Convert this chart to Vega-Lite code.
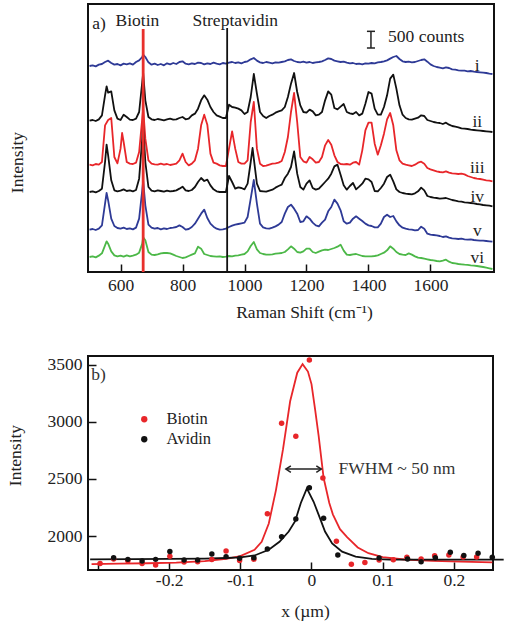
{
"$schema": "https://vega.github.io/schema/vega-lite/v6.json",
"padding": {"left": 5, "top": 3, "right": 5, "bottom": 5},
"background": "white",
"spacing": 32,
"resolve": {"scale": {"color": "independent"}, "legend": {"color": "independent"}},
"config": {
  "font": "Liberation Serif",
  "view": {"stroke": "#111", "strokeWidth": 2},
  "axis": {"grid": false, "domain": false, "tickSize": -8, "tickWidth": 1.5, "tickColor": "#111", "labelFont": "Liberation Serif", "titleFont": "Liberation Serif", "labelFontSize": 17.5, "titleFontSize": 17.5, "labelColor": "#222", "titleColor": "#222", "titleFontWeight": "normal"},
  "text": {"font": "Liberation Serif", "fontSize": 17.5, "color": "#222"}
},
"vconcat": [
{
  "width": 406, "height": 268,
  "layer": [
    {
      "data": {"values": [
        {"cm":500,"i":6180,"ii":4540,"iii":3220,"iv":2400,"v":1270,"vi":450},
        {"cm":510,"i":6200,"ii":4560,"iii":3200,"iv":2420,"v":1290,"vi":470},
        {"cm":520,"i":6170,"ii":4530,"iii":3240,"iv":2390,"v":1260,"vi":440},
        {"cm":530,"i":6220,"ii":4580,"iii":3220,"iv":2430,"v":1300,"vi":490},
        {"cm":540,"i":6240,"ii":4700,"iii":3300,"iv":2500,"v":1400,"vi":560},
        {"cm":550,"i":6300,"ii":5300,"iii":4400,"iv":3300,"v":2050,"vi":800},
        {"cm":555,"ii":5570,"iv":3820,"v":2370,"vi":920},
        {"cm":560,"i":6340,"ii":5380,"iii":4560,"iv":3500,"v":2150,"vi":850},
        {"cm":570,"i":6270,"ii":5420,"iii":4620,"iv":2750,"v":1600,"vi":620},
        {"cm":580,"i":6220,"ii":4850,"iii":3450,"iv":2450,"v":1380,"vi":500},
        {"cm":590,"i":6240,"ii":4600,"iii":3260,"iv":2420,"v":1320,"vi":470},
        {"cm":600,"i":6200,"ii":4560,"iii":3700,"iv":2440,"v":1300,"vi":490},
        {"cm":605,"iii":4170},
        {"cm":610,"i":6250,"ii":4720,"iii":3900,"iv":2480,"v":1330,"vi":460},
        {"cm":620,"i":6230,"ii":4650,"iii":3300,"iv":2430,"v":1290,"vi":500},
        {"cm":630,"i":6260,"ii":4570,"iii":3250,"iv":2450,"v":1310,"vi":470},
        {"cm":640,"i":6220,"ii":4560,"iii":3240,"iv":2420,"v":1280,"vi":490},
        {"cm":650,"i":6300,"ii":4600,"iii":3280,"iv":2460,"v":1330,"vi":520},
        {"cm":660,"i":6350,"ii":4800,"iii":3600,"iv":2800,"v":1600,"vi":580},
        {"cm":670,"i":6450,"ii":5700,"iii":4600,"iv":4000,"v":2450,"vi":850},
        {"cm":673,"i":6520,"ii":5970,"iii":4900,"iv":4420,"v":2730,"vi":1040},
        {"cm":680,"i":6450,"ii":5150,"iii":4000,"iv":3300,"v":2000,"vi":950},
        {"cm":690,"i":6290,"ii":4650,"iii":3350,"iv":2550,"v":1420,"vi":600},
        {"cm":700,"i":6220,"ii":4580,"iii":3250,"iv":2440,"v":1330,"vi":520},
        {"cm":710,"i":6250,"ii":4560,"iii":3230,"iv":2420,"v":1300,"vi":510},
        {"cm":720,"i":6210,"ii":4590,"iii":3220,"iv":2450,"v":1320,"vi":530},
        {"cm":730,"i":6240,"ii":4570,"iii":3250,"iv":2430,"v":1280,"vi":560},
        {"cm":740,"i":6200,"ii":4550,"iii":3220,"iv":2410,"v":1310,"vi":570},
        {"cm":750,"i":6260,"ii":4580,"iii":3240,"iv":2440,"v":1290,"vi":570},
        {"cm":760,"i":6230,"ii":4600,"iii":3210,"iv":2420,"v":1320,"vi":560},
        {"cm":770,"i":6270,"ii":4570,"iii":3230,"iv":2430,"v":1330,"vi":520},
        {"cm":780,"i":6240,"ii":4580,"iii":3250,"iv":2450,"v":1350,"vi":480},
        {"cm":790,"i":6300,"ii":4620,"iii":3350,"iv":2500,"v":1400,"vi":450},
        {"cm":800,"i":6320,"ii":4650,"iii":3550,"iv":2560,"v":1350,"vi":420},
        {"cm":810,"i":6250,"ii":4580,"iii":3300,"iv":2450,"v":1270,"vi":440},
        {"cm":820,"i":6230,"ii":4600,"iii":3200,"iv":2430,"v":1290,"vi":480},
        {"cm":830,"i":6260,"ii":4700,"iii":3250,"iv":2460,"v":1350,"vi":520},
        {"cm":840,"i":6240,"ii":4750,"iii":3350,"iv":2550,"v":1450,"vi":560},
        {"cm":850,"i":6280,"ii":4900,"iii":3700,"iv":2700,"v":1600,"vi":760},
        {"cm":860,"i":6270,"ii":5150,"iii":4400,"iv":2820,"v":1750,"vi":700},
        {"cm":870,"i":6230,"ii":5300,"iii":4720,"iv":2730,"v":1870,"vi":540},
        {"cm":880,"i":6260,"ii":5170,"iii":4420,"iv":2770,"v":1620,"vi":510},
        {"cm":890,"i":6240,"ii":4950,"iii":3550,"iv":2600,"v":1450,"vi":480},
        {"cm":900,"i":6280,"ii":4800,"iii":3280,"iv":2480,"v":1360,"vi":470},
        {"cm":910,"i":6250,"ii":4700,"iii":3250,"iv":2420,"v":1300,"vi":460},
        {"cm":920,"i":6230,"ii":4660,"iii":3200,"iv":2400,"v":1270,"vi":470},
        {"cm":930,"i":6270,"ii":4620,"iii":3180,"iv":2400,"v":1280,"vi":450},
        {"cm":940,"i":6250,"ii":4620,"iii":3180,"iv":2400,"v":1300,"vi":460},
        {"cm":950,"i":6280,"ii":5020,"iii":3700,"iv":2880,"v":1350,"vi":480},
        {"cm":960,"i":6300,"ii":4950,"iii":4220,"iv":2700,"v":1390,"vi":470},
        {"cm":970,"i":6270,"ii":4930,"iii":3700,"iv":2500,"v":1420,"vi":490},
        {"cm":980,"i":6290,"ii":4900,"iii":3300,"iv":2540,"v":1440,"vi":500},
        {"cm":990,"i":6260,"ii":4850,"iii":3250,"iv":2520,"v":1460,"vi":520},
        {"cm":1000,"i":6300,"ii":4740,"iii":3250,"iv":2480,"v":1480,"vi":540},
        {"cm":1010,"i":6320,"ii":4800,"iii":3350,"iv":2650,"v":1650,"vi":620},
        {"cm":1020,"i":6380,"ii":5250,"iii":4500,"iv":3300,"v":2200,"vi":780},
        {"cm":1026,"iv":3720},
        {"cm":1030,"i":6420,"ii":5940,"iii":5100,"iv":3400,"v":2760,"vi":900},
        {"cm":1040,"i":6340,"ii":5350,"iii":3700,"iv":2650,"v":2050,"vi":680},
        {"cm":1050,"i":6290,"ii":4800,"iii":3250,"iv":2430,"v":1450,"vi":570},
        {"cm":1060,"i":6270,"ii":4680,"iii":3180,"iv":2420,"v":1340,"vi":540},
        {"cm":1070,"i":6300,"ii":4620,"iii":3190,"iv":2410,"v":1310,"vi":520},
        {"cm":1080,"i":6280,"ii":4680,"iii":3220,"iv":2440,"v":1300,"vi":520},
        {"cm":1090,"i":6260,"ii":4720,"iii":3250,"iv":2470,"v":1330,"vi":530},
        {"cm":1100,"i":6290,"ii":4780,"iii":3260,"iv":2530,"v":1370,"vi":550},
        {"cm":1110,"i":6280,"ii":4820,"iii":3280,"iv":2580,"v":1420,"vi":560},
        {"cm":1120,"i":6300,"ii":4850,"iii":3330,"iv":2620,"v":1500,"vi":570},
        {"cm":1130,"i":6320,"ii":4950,"iii":3600,"iv":2820,"v":1750,"vi":600},
        {"cm":1140,"i":6360,"ii":5250,"iii":4050,"iv":2950,"v":1950,"vi":680},
        {"cm":1150,"i":6380,"ii":5650,"iii":4800,"iv":3150,"v":2020,"vi":770},
        {"cm":1160,"i":6330,"ii":5970,"iii":5370,"iv":3620,"v":1900,"vi":700},
        {"cm":1170,"i":6300,"ii":5400,"iii":4500,"iv":2950,"v":1750,"vi":600},
        {"cm":1180,"i":6290,"ii":5000,"iii":3450,"iv":2550,"v":1500,"vi":580},
        {"cm":1190,"i":6310,"ii":4800,"iii":3320,"iv":2470,"v":1520,"vi":620},
        {"cm":1200,"i":6280,"ii":4780,"iii":3280,"iv":2650,"v":1670,"vi":700},
        {"cm":1210,"i":6300,"ii":4870,"iii":3450,"iv":2750,"v":1600,"vi":700},
        {"cm":1220,"i":6270,"ii":4820,"iii":3380,"iv":2520,"v":1480,"vi":600},
        {"cm":1230,"i":6290,"ii":4700,"iii":3280,"iv":2470,"v":1400,"vi":570},
        {"cm":1240,"i":6300,"ii":4720,"iii":3300,"iv":2500,"v":1370,"vi":610},
        {"cm":1250,"i":6320,"ii":4800,"iii":3450,"iv":2600,"v":1480,"vi":650},
        {"cm":1260,"i":6360,"ii":5150,"iii":3800,"iv":2700,"v":1570,"vi":670},
        {"cm":1270,"i":6410,"ii":5420,"iii":3960,"iv":2800,"v":1820,"vi":660},
        {"cm":1280,"i":6390,"ii":5320,"iii":3820,"iv":2950,"v":1950,"vi":690},
        {"cm":1290,"i":6340,"ii":4920,"iii":3500,"iv":3170,"v":2170,"vi":720},
        {"cm":1300,"i":6320,"ii":4880,"iii":3300,"iv":3220,"v":2050,"vi":760},
        {"cm":1310,"i":6300,"ii":4960,"iii":3240,"iv":2920,"v":1850,"vi":820},
        {"cm":1320,"i":6310,"ii":5040,"iii":3230,"iv":2600,"v":1520,"vi":640},
        {"cm":1330,"i":6280,"ii":4800,"iii":3240,"iv":2470,"v":1450,"vi":520},
        {"cm":1340,"i":6260,"ii":4760,"iii":3220,"iv":2580,"v":1480,"vi":510},
        {"cm":1350,"i":6270,"ii":4740,"iii":3280,"iv":2670,"v":1600,"vi":530},
        {"cm":1360,"i":6240,"ii":4800,"iii":3300,"iv":2480,"v":1670,"vi":540},
        {"cm":1370,"i":6250,"ii":4700,"iii":3220,"iv":2560,"v":1600,"vi":510},
        {"cm":1380,"i":6230,"ii":4750,"iii":3650,"iv":2650,"v":1530,"vi":480},
        {"cm":1390,"i":6260,"ii":5050,"iii":4250,"iv":2800,"v":1450,"vi":470},
        {"cm":1400,"i":6250,"ii":5400,"iii":4480,"iv":2780,"v":1400,"vi":470},
        {"cm":1410,"i":6270,"ii":5350,"iii":4480,"iv":2700,"v":1380,"vi":470},
        {"cm":1420,"i":6260,"ii":4900,"iii":3850,"iv":2430,"v":1340,"vi":480},
        {"cm":1430,"i":6290,"ii":4720,"iii":3520,"iv":2420,"v":1340,"vi":500},
        {"cm":1440,"i":6300,"ii":4720,"iii":3800,"iv":2520,"v":1450,"vi":540},
        {"cm":1450,"i":6320,"ii":4950,"iii":4150,"iv":2650,"v":1650,"vi":580},
        {"cm":1460,"i":6350,"ii":5300,"iii":4580,"iv":2850,"v":1720,"vi":650},
        {"cm":1470,"i":6400,"ii":5800,"iii":4770,"iv":2920,"v":1650,"vi":770},
        {"cm":1480,"i":6450,"ii":5920,"iii":4400,"iv":2720,"v":1680,"vi":700},
        {"cm":1490,"i":6480,"ii":5500,"iii":3650,"iv":2480,"v":1520,"vi":600},
        {"cm":1500,"i":6390,"ii":5000,"iii":3350,"iv":2400,"v":1400,"vi":540},
        {"cm":1510,"i":6320,"ii":4720,"iii":3250,"iv":2370,"v":1330,"vi":520},
        {"cm":1520,"i":6300,"ii":4620,"iii":3220,"iv":2350,"v":1300,"vi":510},
        {"cm":1530,"i":6310,"ii":4580,"iii":3200,"iv":2340,"v":1280,"vi":560},
        {"cm":1540,"i":6290,"ii":4570,"iii":3180,"iv":2330,"v":1270,"vi":520},
        {"cm":1550,"i":6300,"ii":4600,"iii":3220,"iv":2360,"v":1250,"vi":470},
        {"cm":1560,"i":6330,"ii":4630,"iii":3280,"iv":2420,"v":1260,"vi":430},
        {"cm":1570,"i":6360,"ii":4700,"iii":3310,"iv":2530,"v":1360,"vi":420},
        {"cm":1580,"i":6380,"ii":4680,"iii":3250,"iv":2450,"v":1300,"vi":400},
        {"cm":1590,"i":6310,"ii":4560,"iii":3120,"iv":2280,"v":1150,"vi":380},
        {"cm":1600,"i":6230,"ii":4530,"iii":3080,"iv":2250,"v":1120,"vi":360},
        {"cm":1610,"i":6180,"ii":4500,"iii":3050,"iv":2230,"v":1110,"vi":350},
        {"cm":1620,"i":6150,"ii":4480,"iii":3020,"iv":2220,"v":1100,"vi":330},
        {"cm":1630,"i":6130,"ii":4470,"iii":3000,"iv":2200,"v":1080,"vi":320},
        {"cm":1640,"i":6110,"ii":4440,"iii":2990,"iv":2210,"v":1050,"vi":340},
        {"cm":1650,"i":6140,"ii":4480,"iii":3020,"iv":2220,"v":1070,"vi":370},
        {"cm":1660,"i":6120,"ii":4420,"iii":2980,"iv":2190,"v":1030,"vi":310},
        {"cm":1670,"i":6080,"ii":4380,"iii":2960,"iv":2160,"v":1010,"vi":270},
        {"cm":1680,"i":6070,"ii":4360,"iii":2950,"iv":2140,"v":1000,"vi":260},
        {"cm":1690,"i":6050,"ii":4340,"iii":2940,"iv":2120,"v":990,"vi":240},
        {"cm":1700,"i":6040,"ii":4310,"iii":2950,"iv":2110,"v":1000,"vi":230},
        {"cm":1710,"i":6040,"ii":4300,"iii":2930,"iv":2090,"v":980,"vi":220},
        {"cm":1720,"i":6020,"ii":4290,"iii":2880,"iv":2080,"v":970,"vi":215},
        {"cm":1730,"i":6030,"ii":4270,"iii":2850,"iv":2070,"v":980,"vi":200},
        {"cm":1740,"i":6010,"ii":4260,"iii":2820,"iv":2060,"v":960,"vi":190},
        {"cm":1750,"i":6000,"ii":4250,"iii":2800,"iv":2040,"v":950,"vi":180},
        {"cm":1760,"i":5990,"ii":4240,"iii":2790,"iv":2030,"v":940,"vi":165},
        {"cm":1770,"i":5980,"ii":4230,"iii":2770,"iv":2010,"v":940,"vi":150},
        {"cm":1780,"i":5970,"ii":4220,"iii":2750,"iv":2000,"v":930,"vi":130},
        {"cm":1790,"i":5950,"ii":4210,"iii":2740,"iv":1990,"v":920,"vi":110},
        {"cm":1800,"i":5940,"ii":4200,"iii":2720,"iv":1970,"v":910,"vi":90}
      ]},
      "transform": [
        {"fold": ["i", "ii", "iii", "iv", "v", "vi"], "as": ["trace", "counts"]},
        {"filter": "isValid(datum.counts)"}
      ],
      "mark": {"type": "line", "strokeWidth": 1.8, "strokeJoin": "round"},
      "encoding": {
        "x": {"field": "cm", "type": "quantitative", "scale": {"domain": [495, 1805], "nice": false, "zero": false},
              "axis": {"values": [600, 800, 1000, 1200, 1400, 1600], "format": "d", "title": "Raman Shift (cm⁻¹)", "labelPadding": 12, "titlePadding": 10, "titleX": 216, "titleAnchor": "start", "titleAlign": "center"}},
        "y": {"field": "counts", "type": "quantitative", "scale": {"domain": [0, 8040], "nice": false, "zero": false},
              "axis": {"labels": false, "ticks": false, "title": "Intensity", "titlePadding": 62, "titleY": 158, "titleAnchor": "start", "titleAlign": "center"}},
        "color": {"field": "trace", "type": "nominal",
                  "scale": {"domain": ["i", "ii", "iii", "iv", "v", "vi"], "range": ["#2e3a96", "#111111", "#e8262a", "#111111", "#2e3a96", "#4cb848"]},
                  "legend": null}
      }
    },
    {
      "data": {"values": [{"cm": 673, "from": 0, "to": 7290}]},
      "mark": {"type": "rule", "color": "#e8302c", "strokeWidth": 2.8},
      "encoding": {"x": {"field": "cm", "type": "quantitative"}, "y": {"field": "from", "type": "quantitative"}, "y2": {"field": "to"}}
    },
    {
      "data": {"values": [{"cm": 944, "from": 0, "to": 7320}]},
      "mark": {"type": "rule", "color": "#111", "strokeWidth": 1.8},
      "encoding": {"x": {"field": "cm", "type": "quantitative"}, "y": {"field": "from", "type": "quantitative"}, "y2": {"field": "to"}}
    },
    {
      "data": {"values": [{"cm": 1408, "from": 6720, "to": 7220}]},
      "mark": {"type": "rule", "color": "#222", "strokeWidth": 1.5},
      "encoding": {"x": {"field": "cm", "type": "quantitative"}, "y": {"field": "from", "type": "quantitative"}, "y2": {"field": "to"}}
    },
    {
      "data": {"values": [{"a": 1395, "b": 1421, "level": 6720}, {"a": 1395, "b": 1421, "level": 7220}]},
      "mark": {"type": "rule", "color": "#222", "strokeWidth": 1.5},
      "encoding": {"x": {"field": "a", "type": "quantitative"}, "x2": {"field": "b"}, "y": {"field": "level", "type": "quantitative"}}
    },
    {
      "data": {"values": [
        {"cm": 509, "counts": 7440, "label": "a)"},
        {"cm": 584, "counts": 7540, "label": "Biotin"},
        {"cm": 832, "counts": 7540, "label": "Streptavidin"},
        {"cm": 1463, "counts": 7050, "label": "500 counts"}
      ]},
      "mark": {"type": "text", "align": "left", "baseline": "middle", "fontSize": 17.5},
      "encoding": {"x": {"field": "cm", "type": "quantitative"}, "y": {"field": "counts", "type": "quantitative"}, "text": {"field": "label"}}
    },
    {
      "data": {"values": [
        {"cm": 1751, "counts": 6170, "label": "i"},
        {"cm": 1751, "counts": 4500, "label": "ii"},
        {"cm": 1751, "counts": 3120, "label": "iii"},
        {"cm": 1751, "counts": 2240, "label": "iv"},
        {"cm": 1751, "counts": 1220, "label": "v"},
        {"cm": 1751, "counts": 420, "label": "vi"}
      ]},
      "mark": {"type": "text", "align": "center", "baseline": "middle", "fontSize": 17.5},
      "encoding": {"x": {"field": "cm", "type": "quantitative"}, "y": {"field": "counts", "type": "quantitative"}, "text": {"field": "label"}}
    }
  ]
},
{
  "width": 405, "height": 214,
  "resolve": {"legend": {"color": "independent"}},
  "layer": [
    {
      "data": {"values": [
        {"s": "Biotin", "x": -0.309, "fit": 1755}, {"s": "Biotin", "x": -0.27, "fit": 1758}, {"s": "Biotin", "x": -0.23, "fit": 1762},
        {"s": "Biotin", "x": -0.19, "fit": 1768}, {"s": "Biotin", "x": -0.15, "fit": 1780}, {"s": "Biotin", "x": -0.12, "fit": 1800},
        {"s": "Biotin", "x": -0.10, "fit": 1825}, {"s": "Biotin", "x": -0.08, "fit": 1880}, {"s": "Biotin", "x": -0.07, "fit": 1950},
        {"s": "Biotin", "x": -0.06, "fit": 2110}, {"s": "Biotin", "x": -0.05, "fit": 2400}, {"s": "Biotin", "x": -0.04, "fit": 2760},
        {"s": "Biotin", "x": -0.03, "fit": 3180}, {"s": "Biotin", "x": -0.02, "fit": 3430}, {"s": "Biotin", "x": -0.0125, "fit": 3505},
        {"s": "Biotin", "x": -0.005, "fit": 3440}, {"s": "Biotin", "x": 0.0, "fit": 3330}, {"s": "Biotin", "x": 0.005, "fit": 3110},
        {"s": "Biotin", "x": 0.010, "fit": 2880}, {"s": "Biotin", "x": 0.017, "fit": 2510}, {"s": "Biotin", "x": 0.025, "fit": 2290},
        {"s": "Biotin", "x": 0.030, "fit": 2190}, {"s": "Biotin", "x": 0.040, "fit": 2060}, {"s": "Biotin", "x": 0.050, "fit": 1990},
        {"s": "Biotin", "x": 0.065, "fit": 1900}, {"s": "Biotin", "x": 0.080, "fit": 1850}, {"s": "Biotin", "x": 0.10, "fit": 1815},
        {"s": "Biotin", "x": 0.13, "fit": 1795}, {"s": "Biotin", "x": 0.17, "fit": 1783}, {"s": "Biotin", "x": 0.21, "fit": 1776},
        {"s": "Biotin", "x": 0.254, "fit": 1770},
        {"s": "Avidin", "x": -0.311, "fit": 1796}, {"s": "Avidin", "x": -0.25, "fit": 1798}, {"s": "Avidin", "x": -0.20, "fit": 1800},
        {"s": "Avidin", "x": -0.15, "fit": 1803}, {"s": "Avidin", "x": -0.12, "fit": 1808}, {"s": "Avidin", "x": -0.10, "fit": 1814},
        {"s": "Avidin", "x": -0.08, "fit": 1830}, {"s": "Avidin", "x": -0.06, "fit": 1880}, {"s": "Avidin", "x": -0.045, "fit": 1950},
        {"s": "Avidin", "x": -0.032, "fit": 2040}, {"s": "Avidin", "x": -0.023, "fit": 2130}, {"s": "Avidin", "x": -0.015, "fit": 2290},
        {"s": "Avidin", "x": -0.0065, "fit": 2418}, {"s": "Avidin", "x": 0.003, "fit": 2300}, {"s": "Avidin", "x": 0.012, "fit": 2155},
        {"s": "Avidin", "x": 0.019, "fit": 2040}, {"s": "Avidin", "x": 0.029, "fit": 1936}, {"s": "Avidin", "x": 0.043, "fit": 1863},
        {"s": "Avidin", "x": 0.062, "fit": 1820}, {"s": "Avidin", "x": 0.085, "fit": 1800}, {"s": "Avidin", "x": 0.11, "fit": 1794},
        {"s": "Avidin", "x": 0.15, "fit": 1793}, {"s": "Avidin", "x": 0.20, "fit": 1793}, {"s": "Avidin", "x": 0.27, "fit": 1793}
      ]},
      "mark": {"type": "line", "strokeWidth": 1.8},
      "encoding": {
        "x": {"field": "x", "type": "quantitative", "scale": {"domain": [-0.314, 0.255], "nice": false, "zero": false},
              "axis": {"values": [-0.3, -0.2, -0.1, 0, 0.1, 0.2], "labelExpr": "datum.value < -0.25 ? '' : toString(datum.value)", "title": "x (µm)", "labelPadding": 9, "titlePadding": 14, "titleX": 217, "titleAnchor": "start", "titleAlign": "center"}},
        "y": {"field": "fit", "type": "quantitative", "scale": {"domain": [1703, 3576], "nice": false, "zero": false},
              "axis": {"values": [2000, 2500, 3000, 3500], "format": "d", "title": "Intensity", "labelPadding": 14, "titlePadding": 23, "titleY": 99, "titleAnchor": "start", "titleAlign": "center"}},
        "color": {"field": "s", "type": "nominal", "scale": {"domain": ["Biotin", "Avidin"], "range": ["#e8262a", "#111111"]}, "legend": null}
      }
    },
    {
      "data": {"values": [
        {"s": "Biotin", "x": -0.297, "y": 1760}, {"s": "Biotin", "x": -0.278, "y": 1800}, {"s": "Biotin", "x": -0.258, "y": 1785},
        {"s": "Biotin", "x": -0.238, "y": 1760}, {"s": "Biotin", "x": -0.219, "y": 1746}, {"s": "Biotin", "x": -0.199, "y": 1823},
        {"s": "Biotin", "x": -0.179, "y": 1772}, {"s": "Biotin", "x": -0.160, "y": 1775}, {"s": "Biotin", "x": -0.140, "y": 1794},
        {"s": "Biotin", "x": -0.120, "y": 1870}, {"s": "Biotin", "x": -0.101, "y": 1786}, {"s": "Biotin", "x": -0.081, "y": 1798},
        {"s": "Biotin", "x": -0.062, "y": 2196}, {"s": "Biotin", "x": -0.042, "y": 2988}, {"s": "Biotin", "x": -0.022, "y": 2873},
        {"s": "Biotin", "x": -0.003, "y": 3540}, {"s": "Biotin", "x": 0.016, "y": 2508}, {"s": "Biotin", "x": 0.035, "y": 1955},
        {"s": "Biotin", "x": 0.056, "y": 1753}, {"s": "Biotin", "x": 0.075, "y": 1768}, {"s": "Biotin", "x": 0.095, "y": 1790},
        {"s": "Biotin", "x": 0.115, "y": 1792}, {"s": "Biotin", "x": 0.134, "y": 1814}, {"s": "Biotin", "x": 0.154, "y": 1799},
        {"s": "Biotin", "x": 0.173, "y": 1828}, {"s": "Biotin", "x": 0.193, "y": 1834}, {"s": "Biotin", "x": 0.213, "y": 1817},
        {"s": "Biotin", "x": 0.232, "y": 1817},
        {"s": "Avidin", "x": -0.278, "y": 1811}, {"s": "Avidin", "x": -0.258, "y": 1796}, {"s": "Avidin", "x": -0.238, "y": 1782},
        {"s": "Avidin", "x": -0.219, "y": 1796}, {"s": "Avidin", "x": -0.199, "y": 1864}, {"s": "Avidin", "x": -0.179, "y": 1790},
        {"s": "Avidin", "x": -0.160, "y": 1790}, {"s": "Avidin", "x": -0.140, "y": 1843}, {"s": "Avidin", "x": -0.120, "y": 1820},
        {"s": "Avidin", "x": -0.101, "y": 1805}, {"s": "Avidin", "x": -0.081, "y": 1810}, {"s": "Avidin", "x": -0.062, "y": 1887},
        {"s": "Avidin", "x": -0.042, "y": 1995}, {"s": "Avidin", "x": -0.022, "y": 2149}, {"s": "Avidin", "x": -0.003, "y": 2423},
        {"s": "Avidin", "x": 0.017, "y": 2155}, {"s": "Avidin", "x": 0.037, "y": 1834}, {"s": "Avidin", "x": 0.095, "y": 1809},
        {"s": "Avidin", "x": 0.135, "y": 1800}, {"s": "Avidin", "x": 0.154, "y": 1776}, {"s": "Avidin", "x": 0.174, "y": 1810},
        {"s": "Avidin", "x": 0.195, "y": 1858}, {"s": "Avidin", "x": 0.214, "y": 1829}, {"s": "Avidin", "x": 0.234, "y": 1849},
        {"s": "Avidin", "x": 0.254, "y": 1814}
      ]},
      "mark": {"type": "circle", "size": 30, "opacity": 1},
      "encoding": {
        "x": {"field": "x", "type": "quantitative"},
        "y": {"field": "y", "type": "quantitative"},
        "color": {"field": "s", "type": "nominal",
                  "legend": {"orient": "none", "legendX": 48, "legendY": 55, "title": null, "labelFontSize": 16.5, "labelFont": "Liberation Serif", "labelColor": "#222", "symbolSize": 40, "symbolType": "circle", "labelOffset": 14, "rowPadding": 3}}
      }
    },
    {
      "data": {"values": [{"a": -0.036, "b": 0.0138, "level": 2586}]},
      "mark": {"type": "rule", "color": "#222", "strokeWidth": 1.5},
      "encoding": {"x": {"field": "a", "type": "quantitative"}, "x2": {"field": "b"}, "y": {"field": "level", "type": "quantitative"}}
    },
    {
      "data": {"values": [{"x": -0.036, "level": 2586}]},
      "mark": {"type": "point", "shape": "M2,-1.3L0,0L2,1.3", "size": 25, "filled": false, "color": "#222", "strokeWidth": 1.5, "opacity": 1},
      "encoding": {"x": {"field": "x", "type": "quantitative"}, "y": {"field": "level", "type": "quantitative"}}
    },
    {
      "data": {"values": [{"x": 0.0138, "level": 2586}]},
      "mark": {"type": "point", "shape": "M-2,-1.3L0,0L-2,1.3", "size": 25, "filled": false, "color": "#222", "strokeWidth": 1.5, "opacity": 1},
      "encoding": {"x": {"field": "x", "type": "quantitative"}, "y": {"field": "level", "type": "quantitative"}}
    },
    {
      "data": {"values": [
        {"x": 0.038, "level": 2586, "label": "FWHM ~ 50 nm"},
        {"x": -0.3095, "level": 3407, "label": "b)"}
      ]},
      "mark": {"type": "text", "align": "left", "baseline": "middle", "fontSize": 17.5, "color": "#333"},
      "encoding": {"x": {"field": "x", "type": "quantitative"}, "y": {"field": "level", "type": "quantitative"}, "text": {"field": "label"}}
    }
  ]
}
]
}
